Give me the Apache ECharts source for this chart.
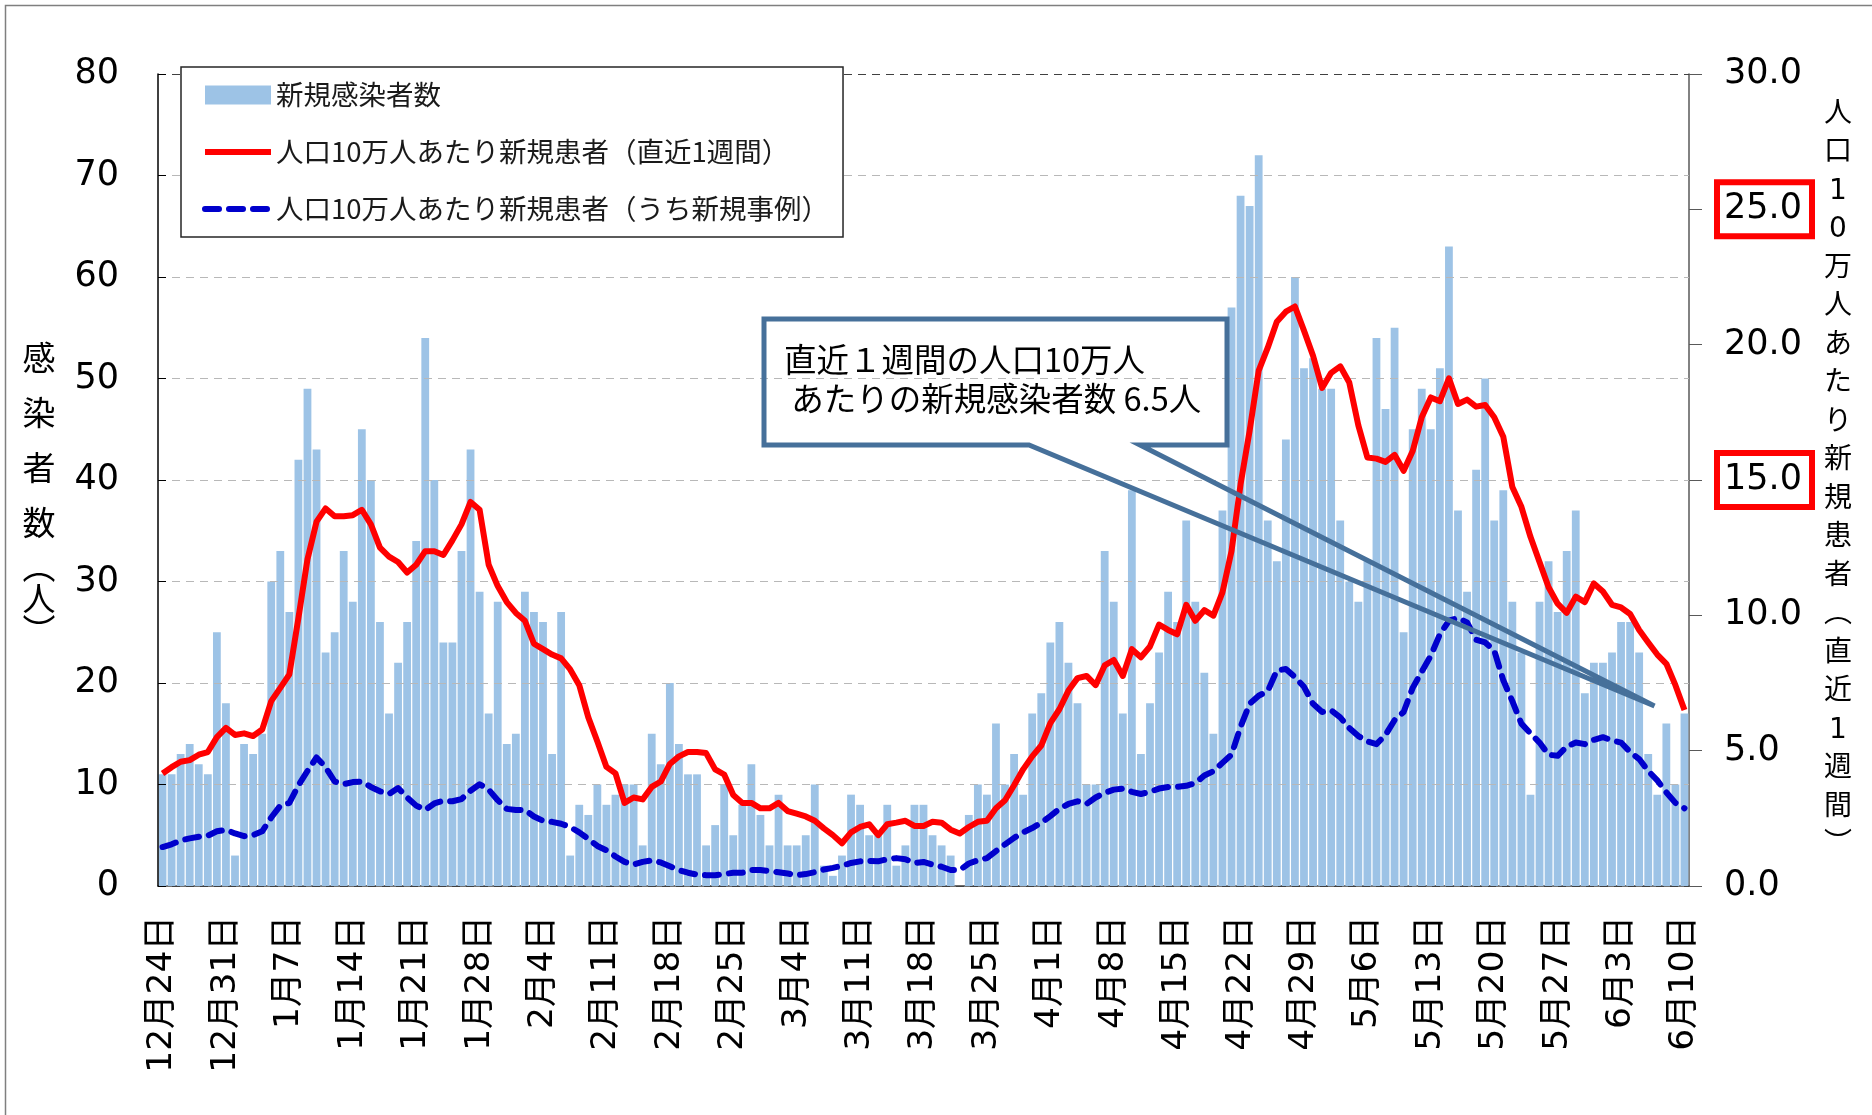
<!DOCTYPE html>
<html lang="ja">
<head>
<meta charset="UTF-8">
<title>新規感染者数</title>
<script src="https://cdn.jsdelivr.net/npm/echarts/dist/echarts.min.js"></script>
<style>
  html, body { margin: 0; padding: 0; background: #fff; }
  #chart { width: 1872px; height: 1115px; }
</style>
</head>
<body>
<div id="chart"></div>
<script>
// 12月24日〜6月10日（169日）
var startDate = Date.UTC(2020, 11, 24);
var dayCount = 169;
var days = [];
for (var i = 0; i < dayCount; i++) {
  var d = new Date(startDate + i * 86400000);
  days.push((d.getUTCMonth() + 1) + '月' + d.getUTCDate() + '日');
}

// 新規感染者数（人）
var newCases = [
  11, 11, 13, 14, 12, 11, 25, 18, 3, 14,
  13, 15, 30, 33, 27, 42, 49, 43, 23, 25,
  33, 28, 45, 40, 26, 17, 22, 26, 34, 54,
  40, 24, 24, 33, 43, 29, 17, 28, 14, 15,
  29, 27, 26, 13, 27, 3, 8, 7, 10, 8,
  9, 10, 10, 4, 15, 12, 20, 14, 11, 11,
  4, 6, 10, 5, 8, 12, 7, 4, 9, 4,
  4, 5, 10, 2, 1, 3, 9, 8, 5, 5,
  8, 2, 4, 8, 8, 5, 4, 3, 0, 7,
  10, 9, 16, 10, 13, 9, 17, 19, 24, 26,
  22, 18, 10, 10, 33, 28, 17, 39, 13, 18,
  23, 29, 26, 36, 28, 21, 15, 37, 57, 68,
  67, 72, 36, 32, 44, 60, 51, 52, 49, 49,
  36, 30, 28, 32, 54, 47, 55, 25, 45, 49,
  45, 51, 63, 37, 29, 41, 50, 36, 39, 28,
  23, 9, 28, 32, 27, 33, 37, 19, 22, 22,
  23, 26, 26, 23, 13, 9, 16, 10, 17
];

// 人口10万人あたり新規患者（直近1週間）
var per100k = [
  4.16, 4.39, 4.59, 4.65, 4.85, 4.95, 5.50, 5.84, 5.58, 5.64,
  5.54, 5.78, 6.83, 7.32, 7.82, 9.90, 12.07, 13.46, 13.95, 13.66,
  13.66, 13.70, 13.90, 13.36, 12.50, 12.17, 11.97, 11.58, 11.87, 12.37,
  12.37, 12.23, 12.77, 13.36, 14.19, 13.90, 11.87, 11.08, 10.49, 10.09,
  9.80, 8.95, 8.75, 8.55, 8.41, 8.00, 7.42, 6.23, 5.34, 4.40,
  4.16, 3.07, 3.27, 3.20, 3.66, 3.86, 4.51, 4.79, 4.95, 4.95,
  4.91, 4.31, 4.12, 3.36, 3.07, 3.07, 2.87, 2.87, 3.07, 2.77,
  2.67, 2.57, 2.41, 2.13, 1.88, 1.58, 1.98, 2.18, 2.28, 1.88,
  2.28, 2.34, 2.41, 2.22, 2.22, 2.37, 2.34, 2.08, 1.94, 2.18,
  2.37, 2.41, 2.87, 3.17, 3.72, 4.31, 4.79, 5.19, 6.02, 6.53,
  7.22, 7.68, 7.76, 7.42, 8.15, 8.35, 7.76, 8.75, 8.45, 8.85,
  9.66, 9.46, 9.30, 10.39, 9.80, 10.19, 9.99, 10.85, 12.37, 14.84,
  16.82, 19.04, 19.89, 20.85, 21.22, 21.41, 20.52, 19.59, 18.40, 18.96,
  19.20, 18.60, 17.02, 15.83, 15.79, 15.67, 15.93, 15.34, 16.07, 17.32,
  18.05, 17.91, 18.76, 17.81, 17.97, 17.71, 17.77, 17.32, 16.60, 14.74,
  14.01, 12.90, 11.97, 11.04, 10.43, 10.09, 10.69, 10.49, 11.18, 10.88,
  10.39, 10.29, 10.05, 9.46, 9.00, 8.55, 8.21, 7.42, 6.50
];

// 人口10万人あたり新規患者（うち新規事例）
var per100kNew = [
  1.44, 1.54, 1.68, 1.76, 1.82, 1.86, 2.02, 2.08, 1.94, 1.84,
  1.88, 2.02, 2.53, 2.97, 3.07, 3.72, 4.25, 4.75, 4.39, 3.86,
  3.76, 3.84, 3.86, 3.66, 3.50, 3.40, 3.62, 3.27, 2.97, 2.81,
  3.05, 3.15, 3.13, 3.21, 3.52, 3.76, 3.56, 3.17, 2.85, 2.81,
  2.81, 2.57, 2.41, 2.37, 2.30, 2.18, 1.98, 1.74, 1.48, 1.32,
  1.09, 0.89, 0.79, 0.89, 0.95, 0.87, 0.73, 0.59, 0.49, 0.42,
  0.40, 0.40, 0.44, 0.49, 0.49, 0.59, 0.59, 0.55, 0.51, 0.46,
  0.40, 0.44, 0.51, 0.61, 0.67, 0.75, 0.85, 0.91, 0.93, 0.91,
  0.99, 1.03, 0.99, 0.85, 0.89, 0.79, 0.71, 0.59, 0.59, 0.83,
  0.95, 1.03, 1.29, 1.54, 1.78, 1.98, 2.14, 2.34, 2.58, 2.85,
  3.03, 3.13, 3.03, 3.27, 3.44, 3.56, 3.60, 3.48, 3.40, 3.48,
  3.60, 3.66, 3.66, 3.70, 3.80, 4.08, 4.24, 4.55, 4.85, 5.88,
  6.73, 7.03, 7.20, 7.96, 8.02, 7.72, 7.36, 6.73, 6.43, 6.49,
  6.23, 5.84, 5.54, 5.34, 5.24, 5.58, 6.13, 6.43, 7.32, 7.92,
  8.51, 9.30, 9.80, 9.90, 9.74, 9.10, 9.00, 8.70, 7.60, 6.83,
  6.00, 5.64, 5.30, 4.85, 4.81, 5.15, 5.30, 5.24, 5.40, 5.50,
  5.38, 5.30, 4.95, 4.69, 4.25, 3.90, 3.46, 3.07, 2.87
];

var seriesNames = [
  '新規感染者数',
  '人口10万人あたり新規患者（直近1週間）',
  '人口10万人あたり新規患者（うち新規事例）'
];
var highlightTicks = [25, 15];

var cjk = '"Noto Sans CJK JP", sans-serif';
var num = '"DejaVu Sans", "Noto Sans CJK JP", sans-serif';
var redLine = { color: '#FF0000', width: 6, join: 'round', cap: 'butt' };
var blueLine = { color: '#0000CC', width: 6, type: [14, 10], cap: 'round', join: 'round' };

var chart = echarts.init(document.getElementById('chart'));

var option = {
  animation: false,
  backgroundColor: '#fff',
  grid: { left: 158, right: 183, top: 74, bottom: 229 },
  legend: {
    orient: 'vertical',
    left: 181,
    top: 67,
    padding: [13, 14, 13, 21],
    itemGap: 27,
    itemWidth: 66,
    itemHeight: 19,
    backgroundColor: '#fff',
    borderColor: '#262626',
    borderWidth: 1.5,
    textStyle: { fontFamily: cjk, fontSize: 27.5, color: '#1a1a1a', lineHeight: 30 },
    data: [
      { name: seriesNames[0], icon: 'rect' },
      { name: seriesNames[1], itemStyle: { opacity: 0 }, lineStyle: { width: 6, opacity: 1 } },
      { name: seriesNames[2], itemStyle: { opacity: 0 }, lineStyle: { width: 6, type: [14, 10], cap: 'round', opacity: 1 } }
    ]
  },
  xAxis: {
    type: 'category',
    data: days,
    boundaryGap: true,
    axisLine: { lineStyle: { color: '#404040', width: 1.5 } },
    axisTick: { interval: 6, length: 13, lineStyle: { color: '#404040', width: 1.5 } },
    axisLabel: {
      interval: 6, rotate: 90, margin: 30,
      fontFamily: num, fontSize: 34.5, color: '#000',
      padding: [0, 0, 9, 0]
    }
  },
  yAxis: [
    {
      type: 'value', min: 0, max: 80, interval: 10, z: 3,
      name: '{a|感}\n{a|染}\n{a|者}\n{a|数}\n{p|︵}\n{p|人}\n{p|︶}',
      nameLocation: 'middle', nameRotate: 0, nameGap: 119,
      nameTextStyle: {
        align: 'center', verticalAlign: 'middle', padding: [16, 0, 0, 0],
        rich: {
          a: { fontFamily: cjk, fontSize: 33, lineHeight: 55, color: '#000' },
          p: { fontFamily: cjk, fontSize: 33, lineHeight: 32, color: '#000' }
        }
      },
      axisLine: { show: true, lineStyle: { color: '#000', width: 1.5 } },
      axisTick: { show: true, inside: true, length: 8, lineStyle: { color: '#000' } },
      axisLabel: { margin: 39, fontFamily: num, fontSize: 35, color: '#000' },
      splitLine: {
        show: true,
        lineStyle: {
          color: ['#404040', '#b8b8b8', '#b8b8b8', '#b8b8b8', '#b8b8b8',
                  '#b8b8b8', '#b8b8b8', '#b8b8b8', '#404040'],
          type: [8, 6], width: 1
        }
      }
    },
    {
      type: 'value', min: 0, max: 30, interval: 5, position: 'right',
      name: ['人', '口', '1', '0', '万', '人', 'あ', 'た', 'り', '新', '規', '患', '者',
             '︵', '直', '近', '1', '週', '間', '︶'].join('\n'),
      nameLocation: 'middle', nameRotate: 0, nameGap: 149,
      nameTextStyle: {
        fontFamily: num, fontSize: 28, lineHeight: 38.5, color: '#000',
        align: 'center', verticalAlign: 'middle', padding: [30, 0, 0, 0]
      },
      axisLine: { show: true, lineStyle: { color: '#595959', width: 1.5 } },
      axisTick: { show: true, length: 13, lineStyle: { color: '#595959' } },
      axisLabel: {
        margin: 35, fontFamily: num, fontSize: 35, color: '#000',
        formatter: function (v) { return v.toFixed(1); }
      },
      splitLine: { show: false }
    }
  ],
  series: [
    {
      name: seriesNames[0], type: 'bar', data: newCases,
      barCategoryGap: '14%', z: 2,
      itemStyle: { color: '#9DC3E6' }
    },
    {
      name: seriesNames[1], type: 'line', yAxisIndex: 1, data: per100k,
      symbol: 'none', z: 5,
      itemStyle: { color: '#FF0000' },
      lineStyle: redLine
    },
    {
      name: seriesNames[2], type: 'line', yAxisIndex: 1, data: per100kNew,
      symbol: 'none', z: 5,
      itemStyle: { color: '#0000CC' },
      lineStyle: blueLine
    }
  ]
};

chart.setOption(option);

// 注記（吹き出し・赤枠）
var last = dayCount - 1;
var endPt = chart.convertToPixel({ xAxisIndex: 0, yAxisIndex: 1 }, [days[last], per100k[last]]);
var tip = [endPt[0] - 30, endPt[1] - 4];
var calloutColor = '#46709A';
var graphics = [
  {
    type: 'rect', silent: true, z: 0,
    shape: { x: 5.5, y: 5.5, width: 1900, height: 1200 },
    style: { fill: 'none', stroke: '#7f7f7f', lineWidth: 1.5 }
  },
  {
    type: 'polygon', z: 20, silent: true,
    shape: { points: [[1029, 445], [764, 445], [764, 319], [1227, 319], [1227, 445], [1140, 445], tip] },
    style: { fill: 'none', stroke: calloutColor, lineWidth: 5, lineJoin: 'miter' }
  },
  {
    type: 'text', z: 21, x: 784, y: 340,
    style: {
      text: '直近１週間の人口10万人\n あたりの新規感染者数 ' + per100k[last].toFixed(1) + '人',
      font: '32.5px "Noto Sans CJK JP"', lineHeight: 39, fill: '#000', verticalAlign: 'top'
    }
  }
];
highlightTicks.forEach(function (v) {
  var y = chart.convertToPixel({ yAxisIndex: 1 }, v);
  graphics.push({
    type: 'rect', z: 20, silent: true,
    shape: { x: 1717, y: y - 27, width: 95, height: 54 },
    style: { fill: 'none', stroke: '#FF0000', lineWidth: 6 }
  });
});
chart.setOption({ graphic: graphics });
</script>
</body>
</html>
